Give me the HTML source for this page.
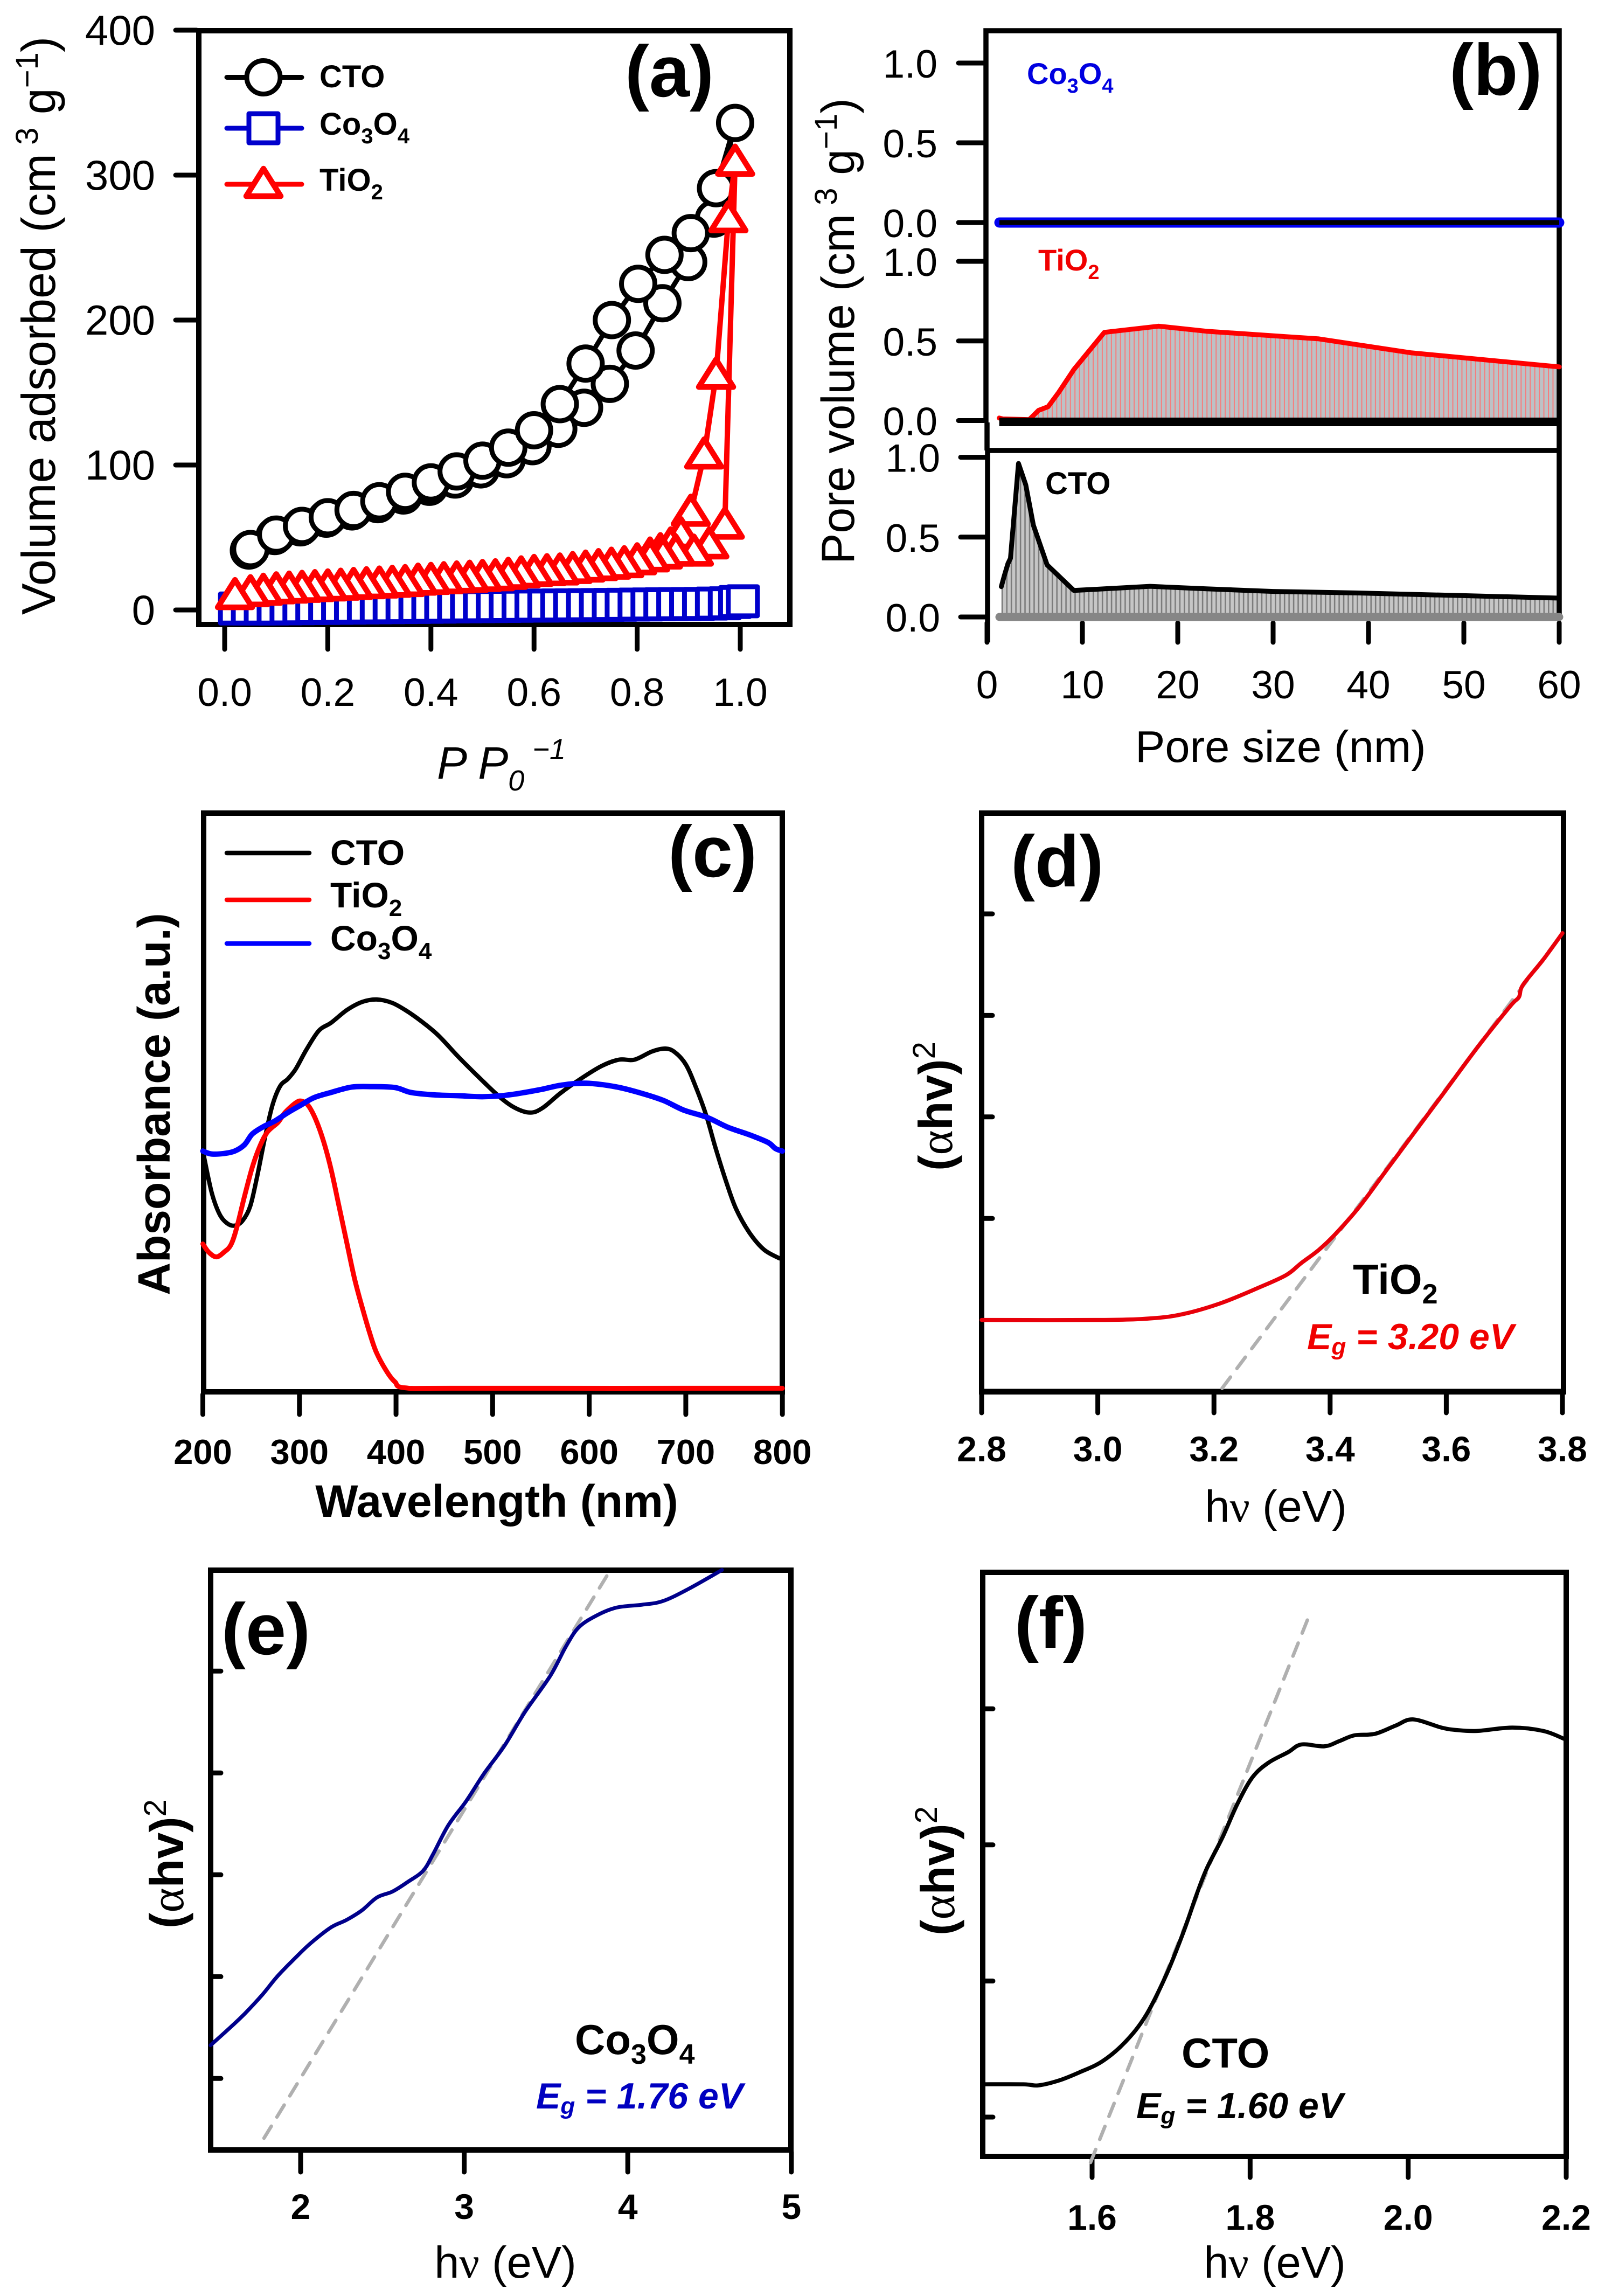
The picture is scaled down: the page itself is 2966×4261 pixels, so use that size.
<!DOCTYPE html>
<html lang="en">
<head>
<meta charset="utf-8">
<title>Material characterisation panels</title>
<style>
html,body{margin:0;padding:0;background:#fff}
svg{display:block}
text{font-family:"Liberation Sans",sans-serif;fill:#000}
.b{font-weight:bold}
.n{font-weight:normal}
.tag{font-weight:bold;font-size:135px}
</style>
</head>
<body>
<svg id="fig" xmlns="http://www.w3.org/2000/svg" width="2966" height="4261" viewBox="0 0 2966 4261">
<defs>
<pattern id="hatch-red" patternUnits="userSpaceOnUse" width="8.45" height="10"><rect width="8.45" height="10" fill="#bcc2c6"/><rect x="0" width="2" height="10" fill="#f77c7c"/></pattern>
<pattern id="hatch-gray" patternUnits="userSpaceOnUse" width="8.45" height="10"><rect width="8.45" height="10" fill="#c6c6c6"/><rect x="0" width="2.6" height="10" fill="#7c7c7c"/></pattern>
</defs>
<rect width="2966" height="4261" fill="#fff"/>

<g id="panel-a">
  <rect x="369" y="57" width="1097" height="1102" fill="none" stroke="#000" stroke-width="10"/>
  <g id="a-axes"></g>
  <g id="a-marks"></g>
  <g id="a-legend"></g>
  <text class="b" x="593" y="162" font-size="58">CTO</text>
  <text class="b" x="593" y="250" font-size="58">Co<tspan dy="16" font-size="40">3</tspan><tspan dy="-16">O</tspan><tspan dy="16" font-size="40">4</tspan></text>
  <text class="b" x="593" y="354" font-size="58">TiO<tspan dy="16" font-size="40">2</tspan></text>
  <text class="tag" x="1160" y="179">(a)</text>
  <text font-size="88" transform="translate(102,1141) rotate(-90)">Volume adsorbed (cm<tspan dy="-32" font-size="58"> 3</tspan><tspan dy="32"> g</tspan><tspan dy="-32" font-size="58">−1</tspan><tspan dy="32">)</tspan></text>
  <text font-size="84" font-style="italic" x="811" y="1445">P P<tspan dy="22" font-size="54">0</tspan><tspan dy="-58" font-size="54"> −1</tspan></text>
</g>

<g id="panel-b">
  <g id="b-fills"></g>
  <path d="M1830 784V57H2894V1150M1832 836H2894M1832 784V836M1833 836V1192" fill="none" stroke="#000" stroke-width="9.5"/>
  <g id="b-axes"></g>
  <g id="b-marks"></g>
  <text class="b" x="1906" y="156" font-size="56" style="fill:#0000e0">Co<tspan dy="16" font-size="38" style="fill:#0000e0">3</tspan><tspan dy="-16" style="fill:#0000e0">O</tspan><tspan dy="16" font-size="38" style="fill:#0000e0">4</tspan></text>
  <text class="b" x="1927" y="502" font-size="56" style="fill:#f00000">TiO<tspan dy="16" font-size="38" style="fill:#f00000">2</tspan></text>
  <text class="b" x="1940" y="917" font-size="58">CTO</text>
  <text class="tag" x="2690" y="176">(b)</text>
  <text font-size="86" transform="translate(1585,1047) rotate(-90)">Pore volume (cm<tspan dy="-32" font-size="58"> 3</tspan><tspan dy="32"> g</tspan><tspan dy="-32" font-size="58">−1</tspan><tspan dy="32">)</tspan></text>
  <text font-size="83" x="2107" y="1414">Pore size (nm)</text>
</g>

<g id="panel-c">
  <rect x="378" y="1509" width="1074" height="1074" fill="none" stroke="#000" stroke-width="10"/>
  <g id="c-axes"></g>
  <g id="c-marks"></g>
  <g id="c-legend"></g>
  <text class="b" x="613" y="1605" font-size="66">CTO</text>
  <text class="b" x="613" y="1684" font-size="66">TiO<tspan dy="16" font-size="44">2</tspan></text>
  <text class="b" x="613" y="1764" font-size="66">Co<tspan dy="16" font-size="44">3</tspan><tspan dy="-16">O</tspan><tspan dy="16" font-size="44">4</tspan></text>
  <text class="tag" x="1240" y="1627">(c)</text>
  <text class="b" font-size="84" text-anchor="middle" transform="translate(315,2049) rotate(-90)">Absorbance (a.u.)</text>
  <text class="b" font-size="84" text-anchor="middle" x="922" y="2815">Wavelength (nm)</text>
</g>

<g id="panel-d">
  <line x1="1822" x2="2900" y1="2577" y2="2577" stroke="#ccc" stroke-width="2"/>
  <rect x="1822" y="1509" width="1080" height="1074" fill="none" stroke="#000" stroke-width="10"/>
  <g id="d-axes"></g>
  <g id="d-marks"></g>
  <text class="b" x="2511" y="2401" font-size="78">TiO<tspan dy="18" font-size="52">2</tspan></text>
  <text class="b" font-style="italic" x="2426" y="2504" font-size="68" style="fill:#f00000">E<tspan dy="10" font-size="44" style="fill:#f00000">g</tspan><tspan dy="-10" style="fill:#f00000"> = 3.20 eV</tspan></text>
  <text class="tag" x="1876" y="1645">(d)</text>
  <text class="b" font-size="88" text-anchor="middle" transform="translate(1767,2053) rotate(-90)">(<tspan class="n" font-family="Liberation Serif">α</tspan>hv)<tspan class="n" dy="-32" font-size="58">2</tspan></text>
  <text font-size="83" text-anchor="middle" x="2368" y="2824">h<tspan font-family="Liberation Serif">ν</tspan> (eV)</text>
</g>

<g id="panel-e">
  <rect x="391" y="2914" width="1077" height="1076" fill="none" stroke="#000" stroke-width="10"/>
  <g id="e-axes"></g>
  <g id="e-marks"></g>
  <text class="b" x="1067" y="3812" font-size="78">Co<tspan dy="18" font-size="52">3</tspan><tspan dy="-18">O</tspan><tspan dy="18" font-size="52">4</tspan></text>
  <text class="b" font-style="italic" x="995" y="3913" font-size="68" style="fill:#0000c0">E<tspan dy="10" font-size="44" style="fill:#0000c0">g</tspan><tspan dy="-10" style="fill:#0000c0"> = 1.76 eV</tspan></text>
  <text class="tag" x="411" y="3070">(e)</text>
  <text class="b" font-size="88" text-anchor="middle" transform="translate(340,3459) rotate(-90)">(<tspan class="n" font-family="Liberation Serif">α</tspan>hv)<tspan class="n" dy="-32" font-size="58">2</tspan></text>
  <text font-size="83" text-anchor="middle" x="938" y="4227">h<tspan font-family="Liberation Serif">ν</tspan> (eV)</text>
</g>

<g id="panel-f">
  <rect x="1824" y="2918" width="1083" height="1084" fill="none" stroke="#000" stroke-width="10"/>
  <g id="f-axes"></g>
  <g id="f-marks"></g>
  <text class="b" x="2193" y="3837" font-size="78">CTO</text>
  <text class="b" font-style="italic" x="2109" y="3931" font-size="68">E<tspan dy="10" font-size="44">g</tspan><tspan dy="-10"> = 1.60 eV</tspan></text>
  <text class="tag" x="1883" y="3058">(f)</text>
  <text class="b" font-size="88" text-anchor="middle" transform="translate(1771,3472) rotate(-90)">(<tspan class="n" font-family="Liberation Serif">α</tspan>hv)<tspan class="n" dy="-32" font-size="58">2</tspan></text>
  <text font-size="83" text-anchor="middle" x="2366" y="4227">h<tspan font-family="Liberation Serif">ν</tspan> (eV)</text>
</g>
</svg>

<script>
// ---------- Panel (a) data ----------
const aXTicks = [0, 0.2, 0.4, 0.6, 0.8, 1.0];
const aXTickLabels = ['0.0', '0.2', '0.4', '0.6', '0.8', '1.0'];
const aYTicks = [0, 100, 200, 300, 400];
const aYTickLabels = ['0', '100', '200', '300', '400'];
const ctoAdsP = [0.047,0.097,0.147,0.197,0.247,0.297,0.347,0.397,0.447,0.497,0.547,0.597,0.647,0.697,0.747,0.797,0.849,0.899,0.949];
const ctoAdsV = [41,51,57,63,68,73,79,85,90,97,104,113,125,139.5,156,179,211.6,240,270];
const ctoDesP = [0.99,0.953,0.904,0.853,0.802,0.751,0.70,0.65,0.60,0.55,0.50,0.45,0.40,0.35,0.30,0.25,0.20,0.15,0.10,0.05];
const ctoDesV = [336,291,260,245,225,200,170,142,124,112,103,95.6,88,81.5,75,69,64,58,52,42];
const coP = [0.02,0.045,0.07,0.095,0.12,0.145,0.17,0.195,0.22,0.245,0.27,0.295,0.32,0.345,0.37,0.395,0.42,0.445,0.47,0.495,0.52,0.545,0.57,0.595,0.62,0.645,0.67,0.695,0.72,0.745,0.77,0.795,0.82,0.845,0.87,0.895,0.92,0.945,0.97,0.99,1.005];
const coV = [1,1,1,1,1.1,1.2,1.3,1.4,1.5,1.6,1.7,1.8,1.9,2,2.1,2.2,2.3,2.4,2.5,2.6,2.7,2.8,2.9,3,3,3.1,3.2,3.3,3.4,3.5,3.6,3.7,3.8,3.9,4,4.1,4.2,4.4,4.6,5.5,6];
const tiAdsP = [0.02,0.05,0.075,0.1,0.125,0.15,0.175,0.2,0.225,0.25,0.275,0.3,0.325,0.35,0.375,0.4,0.425,0.45,0.475,0.5,0.525,0.55,0.575,0.6,0.625,0.65,0.675,0.7,0.725,0.75,0.775,0.8,0.825,0.85,0.875,0.91,0.94,0.97];
const tiAdsV = [10,12,13,14,14.5,15,15.5,16,16.5,17,17.5,18,18.5,19,20,20.5,21,21.5,22,22.5,23,24,25,26,26.5,27,28,29,30,31,32,34,36,38,40,40,45,58.6];
const tiDesP = [0.99,0.977,0.953,0.93,0.904,0.885,0.865,0.845,0.825];
const tiDesV = [309,270,162,107,67.5,52,45,41,38];
const legendA = ['CTO', 'Co3O4', 'TiO2'];

// ---------- Panel (b) data ----------
const bXTicks = [0, 10, 20, 30, 40, 50, 60];
const bXTickLabels = ['0', '10', '20', '30', '40', '50', '60'];
const bYTicks = [0, 0.5, 1.0];
const bYTickLabels = ['0.0', '0.5', '1.0'];
const poreCoSize = [1.3, 60];
const poreCoVol = [0, 0];
const poreTiSize = [1.28,1.66,4.43,5.4,6.4,7.5,9.1,12.3,18,23,34.8,44.4,60];
const poreTiVol = [0.016,0.01,0.006,0.064,0.087,0.176,0.32,0.554,0.593,0.561,0.513,0.426,0.337];
const poreCtoSize = [1.5,1.8,2.2,2.46,3.3,4.06,4.86,6.3,9.1,12.3,17.1,23,30,39,49.7,60];
const poreCtoVol = [0.19,0.256,0.335,0.367,0.961,0.827,0.575,0.326,0.166,0.176,0.192,0.176,0.16,0.15,0.134,0.118];

// ---------- Panel (c) data ----------
const cXTicks = [200,300,400,500,600,700,800];
const cXTickLabels = ['200','300','400','500','600','700','800'];
const absCtoNm = [201,209,217,225,233,241,249,256,264,272,280,288,296,307,320,333,349,365,380,396,412,428,444,465,486,507,523,539,552,570,591,613,631,647,665,679,689,700,710,721,731,742,752,766,781,797];
const absCtoA = [0.483,0.408,0.363,0.343,0.338,0.348,0.378,0.438,0.518,0.588,0.628,0.643,0.663,0.703,0.743,0.76,0.786,0.803,0.808,0.801,0.783,0.76,0.733,0.688,0.646,0.606,0.583,0.573,0.583,0.613,0.643,0.67,0.683,0.683,0.7,0.706,0.698,0.673,0.628,0.568,0.498,0.428,0.373,0.323,0.288,0.27];
const absTiNm = [200,206,214,222,229,235,243,251,259,267,278,285,296,302,309,317,325,333,341,349,357,365,373,380,391,399,409,465,800];
const absTiA = [0.3,0.283,0.273,0.283,0.298,0.333,0.398,0.458,0.503,0.533,0.553,0.573,0.593,0.597,0.588,0.558,0.513,0.453,0.378,0.303,0.228,0.168,0.113,0.073,0.033,0.013,0.001,0,0];
const absCoNm = [200,209,222,233,243,251,262,275,288,301,315,333,354,375,399,415,438,465,491,518,550,571,597,629,656,677,698,722,743,767,785,793,800];
const absCoA = [0.493,0.487,0.488,0.493,0.506,0.528,0.543,0.556,0.573,0.588,0.604,0.615,0.626,0.627,0.625,0.615,0.61,0.608,0.606,0.61,0.621,0.63,0.634,0.626,0.612,0.598,0.578,0.563,0.543,0.526,0.511,0.498,0.493];

// ---------- Panel (d) data ----------
const dXTicks = [2.8,3.0,3.2,3.4,3.6,3.8];
const dXTickLabels = ['2.8','3.0','3.2','3.4','3.6','3.8'];
const dYTicks = [1,2,3,4];
const dEnergy = [2.8,3.012,3.1,3.153,3.214,3.275,3.324,3.35,3.381,3.411,3.451,3.495,3.539,3.591,3.653,3.71,3.725,3.732,3.767,3.8];
const dTauc = [0,0,0.019,0.066,0.17,0.313,0.441,0.559,0.692,0.858,1.12,1.46,1.8,2.2,2.68,3.09,3.18,3.3,3.55,3.81];
const dFitE = [3.214,3.8];
const dFitT = [-0.673,3.81];

// ---------- Panel (e) data ----------
const eXTicks = [2,3,4,5];
const eXTickLabels = ['2','3','4','5'];
const eYTicks = [1,2,3,4,5];
const eEnergy = [1.449,1.564,1.657,1.766,1.86,1.969,2.062,2.187,2.28,2.374,2.467,2.561,2.654,2.748,2.81,2.903,3.012,3.121,3.246,3.371,3.526,3.62,3.698,3.807,3.931,4.087,4.212,4.368,4.576];
const eTauc = [1.326,1.492,1.634,1.823,2.007,2.187,2.329,2.485,2.556,2.65,2.778,2.835,2.929,3.038,3.203,3.487,3.723,3.993,4.267,4.598,4.953,5.236,5.426,5.544,5.624,5.652,5.686,5.804,5.993];
const eFitE = [1.776,3.894];
const eFitT = [0.414,5.993];

// ---------- Panel (f) data ----------
const fXTicks = [1.6,1.8,2.0,2.2];
const fXTickLabels = ['1.6','1.8','2.0','2.2'];
const fYTicks = [1,2,3,4];
const fEnergy = [1.461,1.513,1.532,1.558,1.584,1.613,1.642,1.668,1.694,1.716,1.732,1.745,1.765,1.784,1.803,1.823,1.848,1.865,1.894,1.913,1.932,1.958,1.984,2.006,2.042,2.061,2.087,2.132,2.171,2.197];
const fTauc = [1.241,1.241,1.233,1.269,1.329,1.41,1.552,1.746,2.047,2.365,2.631,2.825,3.055,3.303,3.497,3.603,3.681,3.738,3.724,3.763,3.805,3.816,3.876,3.922,3.862,3.844,3.837,3.862,3.837,3.78];
const fFitE = [1.598,1.877];
const fFitT = [0.667,4.718];

// ---------- Drawing helpers ----------
const NS = 'http://www.w3.org/2000/svg';
function mk(tag, parentId, props) {
  const el = document.createElementNS(NS, tag);
  for (const k in props) el.setAttribute(k, props[k]);
  document.getElementById(parentId).appendChild(el);
  return el;
}
function linearPath(xs, ys, sx, sy) {
  return xs.map((v, i) => (i ? 'L' : 'M') + sx(v).toFixed(1) + ' ' + sy(ys[i]).toFixed(1)).join('');
}
function smoothPath(xs, ys, sx, sy) {
  const p = xs.map((v, i) => [sx(v), sy(ys[i])]);
  let d = 'M' + p[0][0].toFixed(1) + ' ' + p[0][1].toFixed(1);
  for (let i = 0; i < p.length - 1; i++) {
    const a = p[Math.max(i - 1, 0)], b = p[i], c = p[i + 1], e = p[Math.min(i + 2, p.length - 1)];
    d += 'C' + (b[0] + (c[0] - a[0]) / 6).toFixed(1) + ' ' + (b[1] + (c[1] - a[1]) / 6).toFixed(1) + ' ' +
      (c[0] - (e[0] - b[0]) / 6).toFixed(1) + ' ' + (c[1] - (e[1] - b[1]) / 6).toFixed(1) + ' ' +
      c[0].toFixed(1) + ' ' + c[1].toFixed(1);
  }
  return d;
}
function xAxis(parentId, ticks, labels, sx, y1, y2, labelY, size, bold) {
  ticks.forEach((t, i) => {
    const tick = mk('line', parentId, {x1: sx(t), x2: sx(t), y1: y1, y2: y2, stroke: '#000', 'stroke-width': 9, 'stroke-linecap': 'round'});
    
    
    const lab = mk('text', parentId, {x: sx(t), y: labelY, 'text-anchor': 'middle', 'font-size': size, 'font-weight': bold ? 'bold' : 'normal'});
    lab.textContent = labels[i];
    
    
  });
}
function yAxisOut(parentId, ticks, labels, sy, x1, x2, labelX, size) {
  ticks.forEach((t, i) => {
    const tick = mk('line', parentId, {x1: x1, x2: x2, y1: sy(t), y2: sy(t), stroke: '#000', 'stroke-width': 9, 'stroke-linecap': 'round'});
    
    
    const lab = mk('text', parentId, {x: labelX, y: sy(t) + 27, 'text-anchor': 'end', 'font-size': size});
    lab.textContent = labels[i];
    
    
  });
}
function yTicksIn(parentId, ticks, sy, x1, x2) {
  ticks.forEach(t => {
    const tick = mk('line', parentId, {x1: x1, x2: x2, y1: sy(t), y2: sy(t), stroke: '#000', 'stroke-width': 9, 'stroke-linecap': 'round'});
    
    
  });
}
function strokePath(parentId, d, color, width, extra) {
  return mk('path', parentId, Object.assign({d: d, fill: 'none', stroke: color, 'stroke-width': width, 'stroke-linejoin': 'round', 'stroke-linecap': 'round'}, extra || {}));
}
function circleMark(parentId, cx, cy) {
  return mk('circle', parentId, {cx: cx, cy: cy, r: 31, fill: '#fff', stroke: '#000', 'stroke-width': 9});
}
function squareMark(parentId, cx, cy) {
  return mk('rect', parentId, {x: cx - 27, y: cy - 27, width: 54, height: 54, fill: '#fff', stroke: '#0000cc', 'stroke-width': 9, 'stroke-linejoin': 'round'});
}
function triangleMark(parentId, cx, cy) {
  const pts = (cx) + ',' + (cy - 29) + ' ' + (cx + 32) + ',' + (cy + 22) + ' ' + (cx - 32) + ',' + (cy + 22);
  return mk('polygon', parentId, {points: pts, fill: '#fff', stroke: '#f00', 'stroke-width': 10.5, 'stroke-linejoin': 'round'});
}

// ---------- Panel (a) ----------
const ax = v => 417 + 957 * v;
const ay = v => 1132 - 2.69 * v;
xAxis('a-axes', aXTicks, aXTickLabels, ax, 1163, 1205, 1310, 73, false);
yAxisOut('a-axes', aYTicks, aYTickLabels, ay, 326, 365, 288, 78);

const ctoLine = strokePath('a-marks', linearPath(ctoAdsP.concat(ctoDesP), ctoAdsV.concat(ctoDesV), ax, ay), '#000', 9);


ctoAdsP.forEach((p, i) => {
  const m = circleMark('a-marks', ax(p), ay(ctoAdsV[i]));
  
  
});
ctoDesP.slice().reverse().forEach((p, i) => {
  const m = circleMark('a-marks', ax(p), ay(ctoDesV[ctoDesV.length - 1 - i]));
  
  
});
const coLine = strokePath('a-marks', linearPath(coP, coV, ax, ay), '#0000cc', 8);


coP.forEach((p, i) => {
  const m = squareMark('a-marks', ax(p), ay(coV[i]));
  
  
});
const tiLine = strokePath('a-marks', linearPath(tiAdsP.concat(tiDesP), tiAdsV.concat(tiDesV), ax, ay), '#f00', 10);


tiDesP.forEach((p, i) => {
  const m = triangleMark('a-marks', ax(p), ay(tiDesV[i]));
  
  
});
tiAdsP.slice().reverse().forEach((p, i) => {
  const m = triangleMark('a-marks', ax(p), ay(tiAdsV[tiAdsV.length - 1 - i]));
  
  
});
legendA.forEach((name, i) => {
  const color = ['#000', '#0000cc', '#f00'][i];
  const ly = [143.5, 238, 342][i];
  const l = mk('line', 'a-legend', {x1: 421, x2: 560, y1: ly, y2: ly, stroke: color, 'stroke-width': 9, 'stroke-linecap': 'round'});
  
  
  const m = i === 0 ? circleMark('a-legend', 489, ly) : i === 1 ? squareMark('a-legend', 489, ly) : triangleMark('a-legend', 489, ly);
  
  
});

// ---------- Panel (b) ----------
const bx = v => 1832 + 17.7 * v;
const byCo = v => 413 - 296 * v;
const byTi = v => 780.5 - 295.5 * v;
const byCto = v => 1145 - 296.4 * v;
yAxisOut('b-axes', bYTicks, bYTickLabels, byCo, 1779, 1826, 1740, 73);
yAxisOut('b-axes', bYTicks, bYTickLabels, byTi, 1779, 1826, 1740, 73);
yAxisOut('b-axes', bYTicks, bYTickLabels, byCto, 1783, 1829, 1745, 73);
xAxis('b-axes', bXTicks, bXTickLabels, bx, 1156, 1192, 1296, 73, false);

const tiArea = mk('path', 'b-fills', {d: linearPath(poreTiSize, poreTiVol, bx, byTi) + 'L' + bx(60) + ' ' + byTi(0) + 'L' + bx(poreTiSize[0]) + ' ' + byTi(0) + 'Z', fill: 'url(#hatch-red)'});


const ctoArea = mk('path', 'b-fills', {d: linearPath(poreCtoSize, poreCtoVol, bx, byCto) + 'L' + bx(60) + ' ' + byCto(0) + 'L' + bx(poreCtoSize[0]) + ' ' + byCto(0) + 'Z', fill: 'url(#hatch-gray)'});



const coBase = strokePath('b-marks', linearPath(poreCoSize, poreCoVol, bx, byCo), '#0000f0', 19);


const coCore = strokePath('b-marks', linearPath(poreCoSize, poreCoVol, bx, byCo), '#000', 9, {'stroke-linecap': 'butt'});


const tiCurve = strokePath('b-marks', linearPath(poreTiSize, poreTiVol, bx, byTi), '#f00', 9);


const tiBase = mk('line', 'b-marks', {x1: bx(poreTiSize[0]), x2: bx(60) + 3, y1: 783, y2: 783, stroke: '#000', 'stroke-width': 16});


const ctoBase = strokePath('b-marks', linearPath([1.3, 60], [0, 0], bx, byCto), '#868686', 15);


const ctoCurve = strokePath('b-marks', linearPath(poreCtoSize, poreCtoVol, bx, byCto), '#000', 9);



// ---------- Panel (c) ----------
const cx = v => 376.5 + 1.7928 * (v - 200);
const cy = v => 2576.4 - 892.9 * v;
xAxis('c-axes', cXTicks, cXTickLabels, cx, 2588, 2625, 2717, 65, true);
const cBlack = strokePath('c-marks', smoothPath(absCtoNm, absCtoA, cx, cy), '#000', 8);


const cRed = strokePath('c-marks', smoothPath(absTiNm, absTiA, cx, cy), '#f00', 9);


const cBlue = strokePath('c-marks', smoothPath(absCoNm, absCoA, cx, cy), '#0000ff', 10);


['#000', '#f00', '#0000ff'].forEach((color, i) => {
  const ly = [1583, 1670, 1751][i];
  const l = mk('line', 'c-legend', {x1: 421, x2: 574, y1: ly, y2: ly, stroke: color, 'stroke-width': 8.5, 'stroke-linecap': 'round'});
  
  
});

// ---------- Panel (d) ----------
const dx = v => 1822 + 1078 * (v - 2.8);
const dy = v => 2449.6 - 188.4 * v;
xAxis('d-axes', dXTicks, dXTickLabels, dx, 2587, 2622, 2712, 66, true);
yTicksIn('d-axes', dYTicks, dy, 1824, 1842);
const dFit = strokePath('d-marks', linearPath(dFitE, dFitT, dx, dy), '#b0b0b0', 6.5, {'stroke-dasharray': '26 20'});


const dCurve = strokePath('d-marks', smoothPath(dEnergy, dTauc, dx, dy), '#e8000a', 7.5);



// ---------- Panel (e) ----------
const ex = v => 558 + 303.6 * (v - 2);
const ey = v => 3857.3 - 189 * (v - 1);
xAxis('e-axes', eXTicks, eXTickLabels, ex, 3994, 4031, 4118, 66, true);
yTicksIn('e-axes', eYTicks, ey, 393, 410);
const eFit = strokePath('e-marks', linearPath(eFitE, eFitT, ex, ey), '#b0b0b0', 6.5, {'stroke-dasharray': '26 20'});


const eCurve = strokePath('e-marks', smoothPath(eEnergy, eTauc, ex, ey), '#00008b', 7);



// ---------- Panel (f) ----------
const fx = v => 2027 + 1466.7 * (v - 1.6);
const fy = v => 3929 - 252.6 * (v - 1);
xAxis('f-axes', fXTicks, fXTickLabels, fx, 4006, 4041, 4138, 66, true);
yTicksIn('f-axes', fYTicks, fy, 1826, 1843);
const fFit = strokePath('f-marks', linearPath(fFitE, fFitT, fx, fy), '#b0b0b0', 6.5, {'stroke-dasharray': '26 20'});


const fCurve = strokePath('f-marks', smoothPath(fEnergy, fTauc, fx, fy), '#000', 7.5);


</script>
</body>
</html>
